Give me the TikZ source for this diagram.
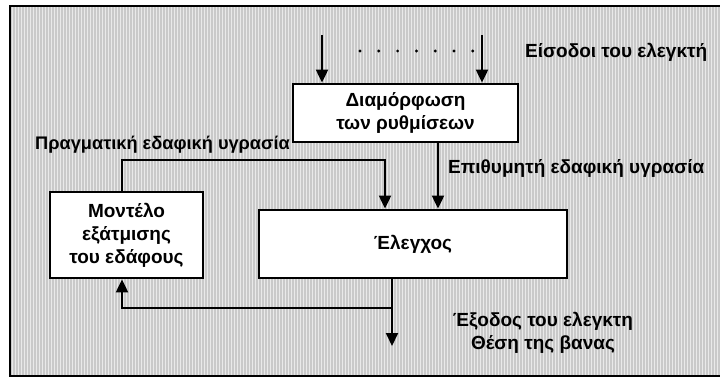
\documentclass[tikz,border=0pt]{standalone}
\usepackage{fontspec}
\setmainfont{Liberation Sans}
\usetikzlibrary{arrows.meta,positioning}

\begin{document}
\begin{tikzpicture}[x=1pt,y=-1pt]
\tikzset{
block/.style={rectangle,draw=black,fill=white,line width=2.8pt,
inner sep=2pt,text centered,align=center,font=\fontsize{19}{23}\selectfont\bfseries},
myarrow/.style={-{Triangle[width=12pt,length=13pt]},line width=2pt},
myline/.style={line width=2pt},
mylabel/.style={font=\fontsize{19}{23}\selectfont\bfseries,inner sep=0pt},
}
\useasboundingbox (0,0) rectangle (720,378);

% background
\fill[gray!42] (10,6) rectangle (725,376);
\draw[white,line width=0.7pt,opacity=0.6] (10,6) grid[step=3] (725,376);
\draw[line width=2pt] (725,6) -- (10,6) -- (10,376) -- (725,376);

% blocks
\node [block, minimum width=225, minimum height=58] (settings) at (405.5,113) {Διαμόρφωση\\των ρυθμίσεων};
\node [block, minimum width=308, minimum height=68] (control) at (413,244) {Έλεγχος};
\node [block, minimum width=153, minimum height=86] (model) at (126.5,235) {Μοντέλο\\εξάτμισης\\του εδάφους};

\coordinate (in1) at (322,35);
\coordinate (in2) at (482,35);
\coordinate (fb) at (122,160);
\coordinate (act) at (385,160);
\coordinate (des) at (438,0);
\coordinate (tap) at (392,308);
\coordinate (out) at (392,346);

% inputs
\draw[myarrow] (in1) -- (in1 |- settings.north);
\draw[myarrow] (in2) -- (in2 |- settings.north);
\foreach \i in {0,...,6}
  \fill (360+\i*18.8,51) circle (1.6);

% connections
\draw[myarrow] (settings.south -| des) -- (control.north -| des);
\draw[myarrow] (model.north -| fb) -- (fb) -- (act) -- (control.north -| act);
\draw[myline] (control.south -| out) -- (tap);
\draw[myarrow] (tap) -- (out);
\draw[myarrow] (tap) -| (model.south -| fb);

% labels
\node [mylabel, anchor=west] (inlabel) at (525,52) {Είσοδοι του ελεγκτή};
\node [mylabel, anchor=west, font=\fontsize{18.2}{22}\selectfont\bfseries] (actlabel) at (35,145) {Πραγματική εδαφική υγρασία};
\node [mylabel, anchor=west] (deslabel) at (448,168) {Επιθυμητή εδαφική υγρασία};
\node [mylabel, align=center] (outlabel) at (543,333) {Έξοδος του ελεγκτη\\Θέση της βανας};
\end{tikzpicture}
\end{document}
